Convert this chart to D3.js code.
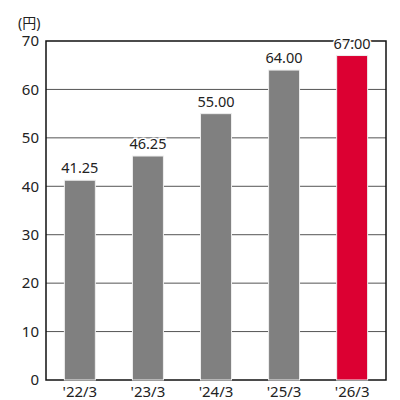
<!DOCTYPE html>
<html>
<head>
<meta charset="utf-8">
<style>
  body { margin: 0; background: #fff; }
  text { font-family: "Noto Sans", "Noto Sans CJK JP", sans-serif; fill: #222; }
</style>
</head>
<body>
<svg width="400" height="400"></svg>
<script src="https://d3js.org/d3.v7.min.js"></script>
<script>
var categories = ["'22/3", "'23/3", "'24/3", "'25/3", "'26/3"];
var values = [41.25, 46.25, 55.00, 64.00, 67.00];
var barColors = ["#808080", "#808080", "#808080", "#808080", "#dc0032"];
var yTicks = [0, 10, 20, 30, 40, 50, 60, 70];
var unitLabel = "(円)";

var svg = d3.select("svg"),
    margin = {top: 41, right: 14, bottom: 20, left: 46},
    width = 400 - margin.left - margin.right,
    height = 400 - margin.top - margin.bottom,
    g = svg.append("g").attr("transform", "translate(" + margin.left + "," + margin.top + ")");

var x = d3.scaleBand().domain(categories).range([0, width]).paddingInner(0.545).paddingOuter(0.27);
var y = d3.scaleLinear().domain([0, 70]).range([height, 0]);

// gridlines
g.selectAll(".grid")
  .data(yTicks.slice(1, -1))
  .enter().append("line")
    .attr("x1", 0).attr("x2", width)
    .attr("y1", function(d) { return y(d); })
    .attr("y2", function(d) { return y(d); })
    .attr("stroke", "#555").attr("stroke-width", 1);

// frame
g.append("rect")
  .attr("x", 0).attr("y", 0).attr("width", width).attr("height", height)
  .attr("fill", "none").attr("stroke", "#111").attr("stroke-width", 1.5);

// bars
g.selectAll(".bar")
  .data(values)
  .enter().append("rect")
    .attr("x", function(d, i) { return x(categories[i]); })
    .attr("y", function(d) { return y(d); })
    .attr("width", x.bandwidth())
    .attr("height", function(d) { return height - y(d); })
    .attr("fill", function(d, i) { return barColors[i]; })
    .attr("stroke", "#eee").attr("stroke-width", 1);

// value labels with white halo
var labels = g.selectAll(".val")
  .data(values)
  .enter().append("g");
labels.append("text")
    .attr("x", function(d, i) { return x(categories[i]) + x.bandwidth() / 2; })
    .attr("y", function(d) { return y(d) - 7; })
    .attr("text-anchor", "middle")
    .style("font-size", "14.5px")
    .attr("stroke", "#fff").attr("stroke-width", 3).style("fill", "#fff")
    .text(function(d) { return d.toFixed(2); });
labels.append("text")
    .attr("x", function(d, i) { return x(categories[i]) + x.bandwidth() / 2; })
    .attr("y", function(d) { return y(d) - 7; })
    .attr("text-anchor", "middle")
    .style("font-size", "14.5px")
    .text(function(d) { return d.toFixed(2); });

// y axis labels
g.selectAll(".ytick")
  .data(yTicks)
  .enter().append("text")
    .attr("x", -7)
    .attr("y", function(d) { return y(d); })
    .attr("dy", "0.35em")
    .attr("text-anchor", "end")
    .style("font-size", "15px")
    .text(function(d) { return d; });

// x axis labels
g.selectAll(".xtick")
  .data(categories)
  .enter().append("text")
    .attr("x", function(d) { return x(d) + x.bandwidth() / 2; })
    .attr("y", height + 17)
    .attr("text-anchor", "middle")
    .style("font-size", "15px")
    .text(function(d) { return d; });

svg.append("text")
  .attr("x", 18).attr("y", 28)
  .style("font-size", "14px")
  .text(unitLabel);
</script>
</body>
</html>
